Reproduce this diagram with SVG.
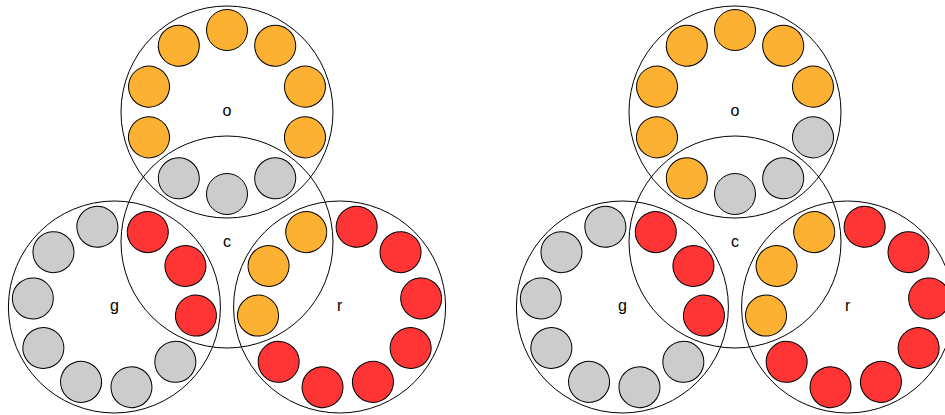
<svg xmlns="http://www.w3.org/2000/svg" width="945" height="415" viewBox="0 0 945 415">
<style>
.big{fill:none;stroke:#000;stroke-width:1}
.dot{stroke:#000;stroke-width:1}
.or{fill:#FDB133}
.rd{fill:#FF3535}
.gy{fill:#CCCCCC}
.lbl{font-family:"Liberation Sans",Arial,Helvetica,sans-serif;font-size:16px;fill:#000;text-anchor:middle}
</style>
<rect width="945" height="415" fill="#fff"/>
<g id="left">
  <g id="L-c"><circle class="big" cx="227" cy="242" r="106"/><text class="lbl" x="227" y="247">c</text></g>
  <g id="L-o">
    <circle class="big" cx="227" cy="112" r="106"/>
    <text class="lbl" x="227" y="116">o</text>
    <circle class="dot or" cx="227" cy="30" r="20.5" transform="rotate(0 227 112)"/>
    <circle class="dot or" cx="227" cy="30" r="20.5" transform="rotate(36 227 112)"/>
    <circle class="dot or" cx="227" cy="30" r="20.5" transform="rotate(72 227 112)"/>
    <circle class="dot or" cx="227" cy="30" r="20.5" transform="rotate(108 227 112)"/>
    <circle class="dot gy" cx="227" cy="30" r="20.5" transform="rotate(144 227 112)"/>
    <circle class="dot gy" cx="227" cy="30" r="20.5" transform="rotate(180 227 112)"/>
    <circle class="dot gy" cx="227" cy="30" r="20.5" transform="rotate(216 227 112)"/>
    <circle class="dot or" cx="227" cy="30" r="20.5" transform="rotate(252 227 112)"/>
    <circle class="dot or" cx="227" cy="30" r="20.5" transform="rotate(288 227 112)"/>
    <circle class="dot or" cx="227" cy="30" r="20.5" transform="rotate(324 227 112)"/>
  </g>
  <g id="L-g">
    <circle class="big" cx="114.4" cy="307" r="106"/>
    <text class="lbl" x="114.4" y="311">g</text>
    <circle class="dot gy" cx="114.4" cy="225" r="20.5" transform="rotate(348 114.4 307)"/>
    <circle class="dot rd" cx="114.4" cy="225" r="20.5" transform="rotate(24 114.4 307)"/>
    <circle class="dot rd" cx="114.4" cy="225" r="20.5" transform="rotate(60 114.4 307)"/>
    <circle class="dot rd" cx="114.4" cy="225" r="20.5" transform="rotate(96 114.4 307)"/>
    <circle class="dot gy" cx="114.4" cy="225" r="20.5" transform="rotate(132 114.4 307)"/>
    <circle class="dot gy" cx="114.4" cy="225" r="20.5" transform="rotate(168 114.4 307)"/>
    <circle class="dot gy" cx="114.4" cy="225" r="20.5" transform="rotate(204 114.4 307)"/>
    <circle class="dot gy" cx="114.4" cy="225" r="20.5" transform="rotate(240 114.4 307)"/>
    <circle class="dot gy" cx="114.4" cy="225" r="20.5" transform="rotate(276 114.4 307)"/>
    <circle class="dot gy" cx="114.4" cy="225" r="20.5" transform="rotate(312 114.4 307)"/>
  </g>
  <g id="L-r">
    <circle class="big" cx="339.6" cy="307" r="106"/>
    <text class="lbl" x="339.6" y="311">r</text>
    <circle class="dot rd" cx="339.6" cy="225" r="20.5" transform="rotate(12 339.6 307)"/>
    <circle class="dot rd" cx="339.6" cy="225" r="20.5" transform="rotate(48 339.6 307)"/>
    <circle class="dot rd" cx="339.6" cy="225" r="20.5" transform="rotate(84 339.6 307)"/>
    <circle class="dot rd" cx="339.6" cy="225" r="20.5" transform="rotate(120 339.6 307)"/>
    <circle class="dot rd" cx="339.6" cy="225" r="20.5" transform="rotate(156 339.6 307)"/>
    <circle class="dot rd" cx="339.6" cy="225" r="20.5" transform="rotate(192 339.6 307)"/>
    <circle class="dot rd" cx="339.6" cy="225" r="20.5" transform="rotate(228 339.6 307)"/>
    <circle class="dot or" cx="339.6" cy="225" r="20.5" transform="rotate(264 339.6 307)"/>
    <circle class="dot or" cx="339.6" cy="225" r="20.5" transform="rotate(300 339.6 307)"/>
    <circle class="dot or" cx="339.6" cy="225" r="20.5" transform="rotate(336 339.6 307)"/>
  </g>
</g>
<g id="right" transform="translate(508 0)">
  <g id="R-c"><circle class="big" cx="227" cy="242" r="106"/><text class="lbl" x="227" y="247">c</text></g>
  <g id="R-o">
    <circle class="big" cx="227" cy="112" r="106"/>
    <text class="lbl" x="227" y="116">o</text>
    <circle class="dot or" cx="227" cy="30" r="20.5" transform="rotate(0 227 112)"/>
    <circle class="dot or" cx="227" cy="30" r="20.5" transform="rotate(36 227 112)"/>
    <circle class="dot or" cx="227" cy="30" r="20.5" transform="rotate(72 227 112)"/>
    <circle class="dot gy" cx="227" cy="30" r="20.5" transform="rotate(108 227 112)"/>
    <circle class="dot gy" cx="227" cy="30" r="20.5" transform="rotate(144 227 112)"/>
    <circle class="dot gy" cx="227" cy="30" r="20.5" transform="rotate(180 227 112)"/>
    <circle class="dot or" cx="227" cy="30" r="20.5" transform="rotate(216 227 112)"/>
    <circle class="dot or" cx="227" cy="30" r="20.5" transform="rotate(252 227 112)"/>
    <circle class="dot or" cx="227" cy="30" r="20.5" transform="rotate(288 227 112)"/>
    <circle class="dot or" cx="227" cy="30" r="20.5" transform="rotate(324 227 112)"/>
  </g>
  <g id="R-g">
    <circle class="big" cx="114.4" cy="307" r="106"/>
    <text class="lbl" x="114.4" y="311">g</text>
    <circle class="dot gy" cx="114.4" cy="225" r="20.5" transform="rotate(348 114.4 307)"/>
    <circle class="dot rd" cx="114.4" cy="225" r="20.5" transform="rotate(24 114.4 307)"/>
    <circle class="dot rd" cx="114.4" cy="225" r="20.5" transform="rotate(60 114.4 307)"/>
    <circle class="dot rd" cx="114.4" cy="225" r="20.5" transform="rotate(96 114.4 307)"/>
    <circle class="dot gy" cx="114.4" cy="225" r="20.5" transform="rotate(132 114.4 307)"/>
    <circle class="dot gy" cx="114.4" cy="225" r="20.5" transform="rotate(168 114.4 307)"/>
    <circle class="dot gy" cx="114.4" cy="225" r="20.5" transform="rotate(204 114.4 307)"/>
    <circle class="dot gy" cx="114.4" cy="225" r="20.5" transform="rotate(240 114.4 307)"/>
    <circle class="dot gy" cx="114.4" cy="225" r="20.5" transform="rotate(276 114.4 307)"/>
    <circle class="dot gy" cx="114.4" cy="225" r="20.5" transform="rotate(312 114.4 307)"/>
  </g>
  <g id="R-r">
    <circle class="big" cx="339.6" cy="307" r="106"/>
    <text class="lbl" x="339.6" y="311">r</text>
    <circle class="dot rd" cx="339.6" cy="225" r="20.5" transform="rotate(12 339.6 307)"/>
    <circle class="dot rd" cx="339.6" cy="225" r="20.5" transform="rotate(48 339.6 307)"/>
    <circle class="dot rd" cx="339.6" cy="225" r="20.5" transform="rotate(84 339.6 307)"/>
    <circle class="dot rd" cx="339.6" cy="225" r="20.5" transform="rotate(120 339.6 307)"/>
    <circle class="dot rd" cx="339.6" cy="225" r="20.5" transform="rotate(156 339.6 307)"/>
    <circle class="dot rd" cx="339.6" cy="225" r="20.5" transform="rotate(192 339.6 307)"/>
    <circle class="dot rd" cx="339.6" cy="225" r="20.5" transform="rotate(228 339.6 307)"/>
    <circle class="dot or" cx="339.6" cy="225" r="20.5" transform="rotate(264 339.6 307)"/>
    <circle class="dot or" cx="339.6" cy="225" r="20.5" transform="rotate(300 339.6 307)"/>
    <circle class="dot or" cx="339.6" cy="225" r="20.5" transform="rotate(336 339.6 307)"/>
  </g>
</g>
</svg>
